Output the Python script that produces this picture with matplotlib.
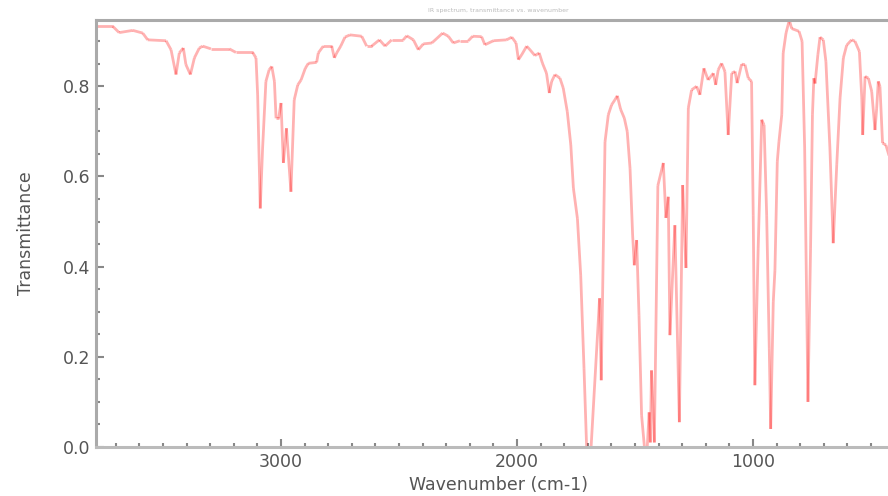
import numpy as np
import matplotlib
matplotlib.use("Agg")
import matplotlib.pyplot as plt
from matplotlib.collections import LineCollection
from matplotlib.ticker import MultipleLocator

# IR spectrum, read point by point (wavenumber in cm-1, transmittance)
wavenumber = [
    3784, 3713, 3686, 3628, 3586, 3565, 3487, 3466, 3445, 3431, 3414, 3403,
    3384, 3367, 3346, 3332, 3297, 3219, 3191, 3120, 3106, 3099, 3088, 3078,
    3064, 3050, 3039, 3028, 3021, 3010, 3000, 2990, 2977, 2958, 2944, 2929,
    2915, 2897, 2884, 2849, 2842, 2821, 2785, 2774, 2764, 2747, 2729, 2708,
    2658, 2637, 2616, 2583, 2559, 2531, 2482, 2467, 2439, 2418, 2397, 2361,
    2340, 2315, 2291, 2270, 2242, 2206, 2188, 2150, 2136, 2100, 2044, 2022,
    2004, 1994, 1980, 1959, 1945, 1924, 1906, 1892, 1875, 1863, 1853, 1839,
    1818, 1804, 1787, 1772, 1761, 1744, 1730, 1716, 1705, 1686, 1650, 1643,
    1627, 1613, 1599, 1585, 1575, 1561, 1545, 1533, 1521, 1510, 1503, 1493,
    1483, 1472, 1460, 1448, 1440, 1435, 1430, 1418, 1403, 1380, 1369, 1359,
    1352, 1331, 1312, 1298, 1284, 1274, 1260, 1239, 1225, 1208, 1190, 1168,
    1158, 1147, 1133, 1119, 1105, 1090, 1076, 1067, 1048, 1034, 1020, 1006,
    999, 992, 978, 963, 953, 942, 931, 925, 914, 907, 897, 890,
    878, 872, 860, 846, 836, 805, 792, 781, 767, 756, 748, 742,
    737, 725, 716, 702, 691, 674, 660, 645, 631, 617, 603, 582,
    568, 549, 539, 535, 525, 511, 497, 483, 476, 469, 462, 451,
    437, 420, 400,
]
transmittance = [
    0.933, 0.933, 0.919, 0.924, 0.918, 0.903, 0.901, 0.881, 0.826, 0.874, 0.885, 0.848,
    0.826, 0.863, 0.885, 0.889, 0.883, 0.883, 0.875, 0.875, 0.863, 0.781, 0.529, 0.663,
    0.811, 0.837, 0.844, 0.811, 0.729, 0.729, 0.763, 0.630, 0.707, 0.566, 0.770, 0.803,
    0.814, 0.840, 0.851, 0.853, 0.874, 0.889, 0.889, 0.863, 0.874, 0.889, 0.909, 0.914,
    0.911, 0.889, 0.889, 0.903, 0.889, 0.903, 0.903, 0.912, 0.903, 0.881, 0.894, 0.896,
    0.906, 0.918, 0.911, 0.896, 0.901, 0.901, 0.911, 0.910, 0.892, 0.901, 0.903, 0.909,
    0.896, 0.859, 0.870, 0.889, 0.881, 0.868, 0.874, 0.851, 0.829, 0.785, 0.811, 0.826,
    0.818, 0.796, 0.744, 0.670, 0.574, 0.507, 0.381, 0.174, 0.000, 0.000, 0.330, 0.148,
    0.677, 0.737, 0.759, 0.770, 0.779, 0.749, 0.729, 0.700, 0.618, 0.470, 0.403, 0.459,
    0.292, 0.070, 0.000, 0.000, 0.077, 0.010, 0.170, 0.010, 0.580, 0.630, 0.508, 0.555,
    0.248, 0.492, 0.055, 0.581, 0.397, 0.752, 0.792, 0.800, 0.781, 0.840, 0.814, 0.829,
    0.803, 0.837, 0.851, 0.833, 0.692, 0.829, 0.833, 0.807, 0.849, 0.848, 0.818, 0.811,
    0.514, 0.137, 0.441, 0.726, 0.714, 0.514, 0.219, 0.040, 0.322, 0.392, 0.633, 0.677,
    0.737, 0.874, 0.918, 0.947, 0.928, 0.922, 0.900, 0.663, 0.100, 0.441, 0.737, 0.818,
    0.806, 0.870, 0.909, 0.903, 0.855, 0.663, 0.452, 0.626, 0.774, 0.863, 0.891, 0.903,
    0.900, 0.877, 0.774, 0.692, 0.822, 0.818, 0.789, 0.703, 0.750, 0.811, 0.800, 0.674,
    0.670, 0.640, 0.700,
]

fig = plt.figure(figsize=(8.88, 4.96), dpi=100)
ax = fig.add_axes([96 / 888, 49 / 496, 804 / 888, 427 / 496])

# separate segments so overlapping strokes build up a darker red
pts = np.column_stack([wavenumber, transmittance])
segs = np.stack([pts[:-1], pts[1:]], axis=1)
lc = LineCollection(segs, colors=[(1.0, 0.0, 0.0, 0.3)], linewidths=2.0,
                    capstyle="butt")
ax.add_collection(lc)

ax.set_xlim(3784, 377)
ax.set_ylim(0, 0.947)

ax.xaxis.set_major_locator(MultipleLocator(1000))
ax.xaxis.set_minor_locator(MultipleLocator(100))
ax.yaxis.set_major_locator(MultipleLocator(0.2))
ax.yaxis.set_minor_locator(MultipleLocator(0.05))
ax.yaxis.set_major_formatter(matplotlib.ticker.FormatStrFormatter("%.1f"))

ax.tick_params(which="both", direction="in", colors="#888888",
               labelcolor="#555555", labelsize=12.5, top=False, right=False)
ax.tick_params(which="major", length=6, width=1.5, pad=4)
ax.tick_params(which="minor", length=3, width=1.5)

for side in ("left", "top", "bottom"):
    ax.spines[side].set_color("#aaaaaa")
    ax.spines[side].set_linewidth(2.2)
ax.spines["bottom"].set_color("#bbbbbb")
ax.spines["right"].set_visible(False)

ax.set_xlabel("Wavenumber (cm-1)", fontsize=12.5, color="#555555", labelpad=4)
ax.set_ylabel("Transmittance", fontsize=12.5, color="#555555", labelpad=20)
ax.set_title("IR spectrum, transmittance vs. wavenumber", fontsize=4.5,
             color="#bbbbbb", pad=6)

fig.savefig("out.png", dpi=100)
